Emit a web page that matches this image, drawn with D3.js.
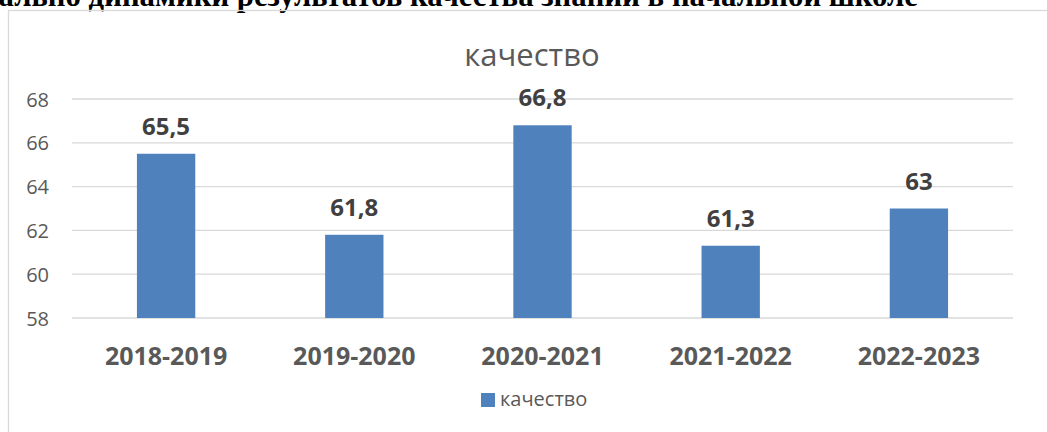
<!DOCTYPE html>
<html>
<head>
<meta charset="utf-8">
<script src="https://cdn.jsdelivr.net/npm/d3@7"></script>
<style>
  body { margin: 0; background: #fff; }
  svg { display: block; }
  .tick_label { font-family: "Open Sans", sans-serif; font-size: 20px; fill: #595959; }
  .cat_label { font-family: "Open Sans", sans-serif; font-size: 25px; font-weight: bold; fill: #595959; }
  .val_label { font-family: "Open Sans", sans-serif; font-size: 24px; font-weight: bold; fill: #404040; }
</style>
</head>
<body>
<svg id="chart"></svg>
<script>
// chart data
let years = ["2018-2019", "2019-2020", "2020-2021", "2021-2022", "2022-2023"],
  quality = [65.5, 61.8, 66.8, 61.3, 63],
  y_ticks = [58, 60, 62, 64, 66, 68],
  series_name = "качество",
  page_heading = "ально динамики результатов качества знаний в начальной школе";

let width = 1047,
  height = 432,
  margins = {left: 72, right: 34, top: 99, bottom: 114};

let svg = d3.select("#chart").attr("width", width).attr("height", height);

// heading of the document, cut off by the top of the window
let heading = svg.append("text")
  .text(page_heading)
  .attr("x", 918)
  .attr("y", 6)
  .attr("text-anchor", "end")
  .style("font-family", "'Liberation Serif', serif")
  .style("font-weight", "bold")
  .style("font-size", "28px")
  .style("fill", "#000");
let w = heading.node().getComputedTextLength();
heading.style("font-size", (28 * 920 / w) + "px");

// chart area frame
svg.append("rect")
  .attr("x", 8.5).attr("y", 10.5)
  .attr("width", width).attr("height", height)
  .attr("fill", "none")
  .attr("stroke", "#d9d9d9")
  .attr("stroke-width", 1.3);

let x = d3.scaleBand()
  .domain(years)
  .range([margins.left, width - margins.right])
  .paddingInner(0.69)
  .paddingOuter(0.345);

let y = d3.scaleLinear()
  .domain([58, 68])
  .range([height - margins.bottom, margins.top]);

// gridlines
svg.append("g")
  .selectAll("line")
  .data(y_ticks).enter()
  .append("line")
  .attr("x1", margins.left)
  .attr("x2", width - margins.right)
  .attr("y1", d => y(d))
  .attr("y2", d => y(d))
  .attr("stroke", "#d9d9d9")
  .attr("stroke-width", 1.3);

svg.append("g")
  .selectAll("text")
  .data(y_ticks).enter()
  .append("text")
  .attr("class", "tick_label")
  .attr("x", 49)
  .attr("y", d => y(d) + 7.5)
  .attr("text-anchor", "end")
  .text(d => d);

// bars
let rows = years.map((d, i) => ({year: d, value: quality[i]}));

svg.append("g")
  .selectAll("rect")
  .data(rows).enter()
  .append("rect")
  .attr("x", d => x(d.year))
  .attr("width", x.bandwidth())
  .attr("y", d => y(d.value))
  .attr("height", d => y(58) - y(d.value))
  .attr("fill", "#4f81bd");

svg.append("g")
  .selectAll("text")
  .data(rows).enter()
  .append("text")
  .attr("class", "val_label")
  .attr("x", d => x(d.year) + x.bandwidth() / 2)
  .attr("y", d => y(d.value) - 19)
  .attr("text-anchor", "middle")
  .text(d => String(d.value).replace(".", ","));

svg.append("g")
  .selectAll("text")
  .data(years).enter()
  .append("text")
  .attr("class", "cat_label")
  .attr("x", d => x(d) + x.bandwidth() / 2)
  .attr("y", 365)
  .attr("text-anchor", "middle")
  .text(d => d);

// title
svg.append("text")
  .text(series_name)
  .attr("x", 532)
  .attr("y", 66)
  .attr("text-anchor", "middle")
  .style("font-family", "'Open Sans', sans-serif")
  .style("font-size", "31px")
  .style("fill", "#595959");

// legend
svg.append("rect")
  .attr("x", 481).attr("y", 393)
  .attr("width", 14).attr("height", 14)
  .attr("fill", "#4f81bd");
svg.append("text")
  .text(series_name)
  .attr("x", 500)
  .attr("y", 406)
  .style("font-family", "'Open Sans', sans-serif")
  .style("font-size", "20px")
  .style("fill", "#595959");
</script>
</body>
</html>
